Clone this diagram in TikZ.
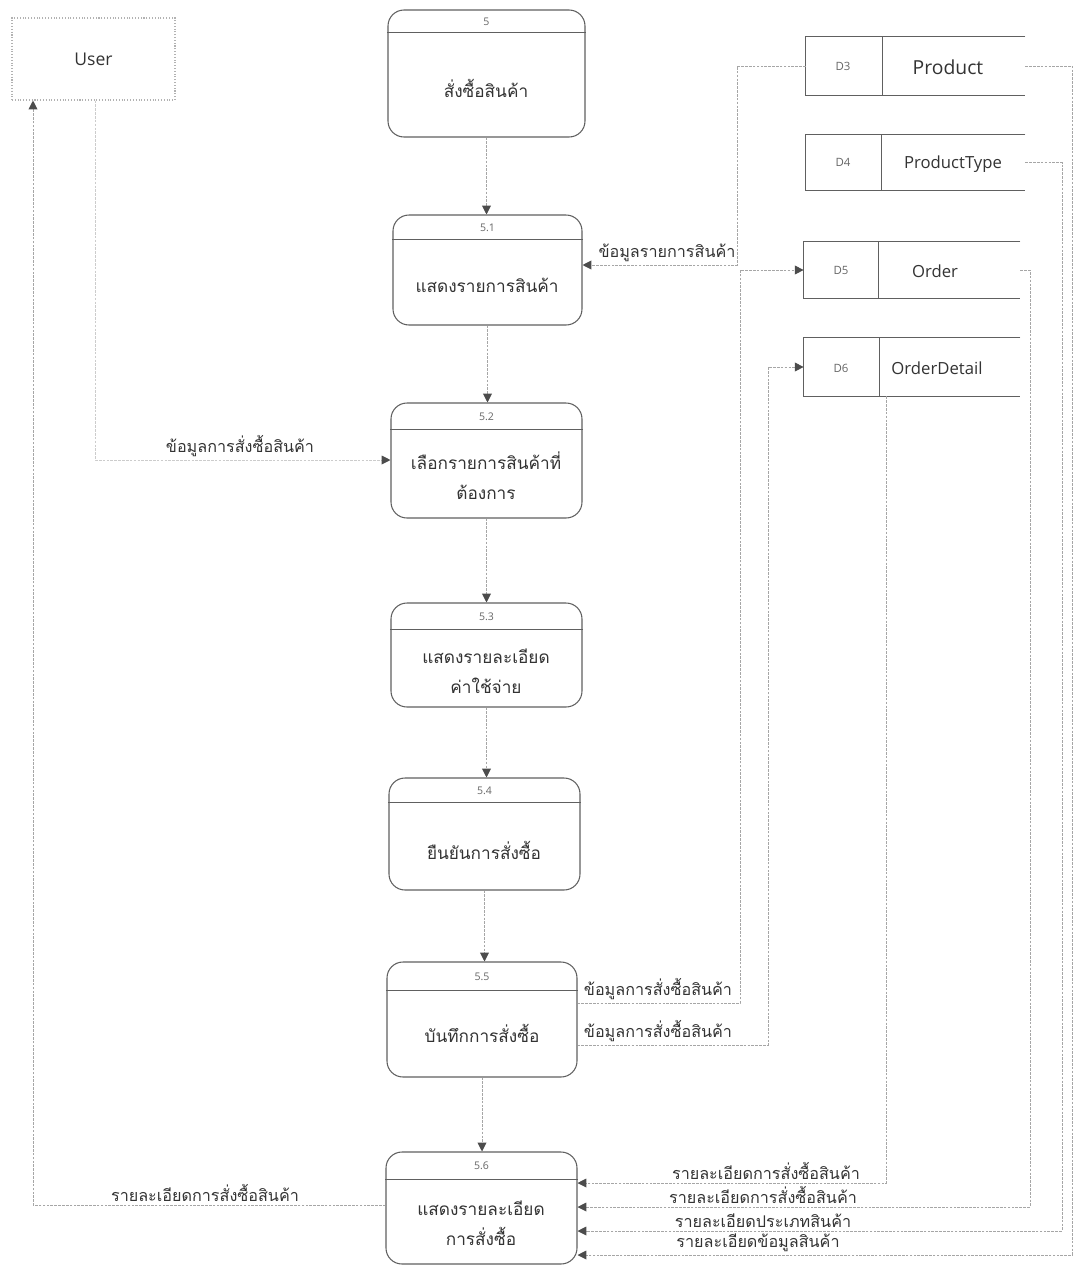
\documentclass[tikz,border=0pt]{standalone}
\usepackage{fontspec}
\setmainfont{Open Sans}
\newfontfamily\thai[Script=Thai]{Loma}
\usetikzlibrary{arrows.meta,calc}
\newcommand\pxu{0.02cm}

\begin{document}
\begin{tikzpicture}[x=0.02cm,y=-0.02cm,
  proc/.style={draw=gray!75!black, line width=0.6pt, rounded corners=0.32cm, inner sep=0pt, fill=white},
  pid/.style={font=\fontsize{6}{7}\selectfont, text=gray!80!black, inner sep=0pt},
  ptext/.style={font=\thai\fontsize{9.8}{17}\selectfont, align=center, text=black!80},
  store/.style={draw=none, inner sep=0pt},
  sline/.style={draw=gray!75!black, line width=0.5pt},
  sid/.style={font=\fontsize{6.5}{8}\selectfont, text=gray!80!black},
  sname/.style={font=\fontsize{9.5}{11}\selectfont, text=black!80},
  conn/.style={draw=gray!70, line width=0.5pt, dash pattern=on 1.5pt off 0.7pt,
    -{Triangle[length=5pt,width=5pt,color=gray!60!black]}},
  faint/.style={draw=gray!40},
  flabel/.style={font=\thai\fontsize{9.2}{10}\selectfont, text=black!80, inner sep=1.5pt}]

\useasboundingbox (0,0) rectangle (1074,1265);

% external entity
\node[draw=gray!60, densely dotted, line width=0.6pt, minimum width=163*\pxu, minimum height=82*\pxu,
      font=\fontsize{10}{12}\selectfont, text=black!80] (user) at (93.5,59) {User};

% processes: box, header rule, number, name
\node[proc, minimum width=197*\pxu, minimum height=127*\pxu] (p0) at (486.5,73.5) {};
\draw[sline] ($(p0.north west)+(0,23)$) -- ($(p0.north east)+(0,23)$);
\node[pid] (p0id) at ($(p0.north)+(0,12)$) {5};
\node[ptext] (p0t) at (486,88) {สั่งซื้อสินค้า};

\node[proc, minimum width=189*\pxu, minimum height=110*\pxu] (p1) at (487.5,270) {};
\draw[sline] ($(p1.north west)+(0,25)$) -- ($(p1.north east)+(0,25)$);
\node[pid] (p1id) at ($(p1.north)+(0,13)$) {5.1};
\node[ptext] (p1t) at (487,285) {แสดงรายการสินค้า};

\node[proc, minimum width=191*\pxu, minimum height=115*\pxu] (p2) at (486.5,460.5) {};
\draw[sline] ($(p2.north west)+(0,27)$) -- ($(p2.north east)+(0,27)$);
\node[pid] (p2id) at ($(p2.north)+(0,14)$) {5.2};
\node[ptext] (p2t) at (486,476) {เลือกรายการสินค้าที่\\ต้องการ};

\node[proc, minimum width=191*\pxu, minimum height=104*\pxu] (p3) at (486.5,655) {};
\draw[sline] ($(p3.north west)+(0,27)$) -- ($(p3.north east)+(0,27)$);
\node[pid] (p3id) at ($(p3.north)+(0,14)$) {5.3};
\node[ptext] (p3t) at (486,671) {แสดงรายละเอียด\\ค่าใช้จ่าย};

\node[proc, minimum width=191*\pxu, minimum height=112*\pxu] (p4) at (484.5,834) {};
\draw[sline] ($(p4.north west)+(0,25)$) -- ($(p4.north east)+(0,25)$);
\node[pid] (p4id) at ($(p4.north)+(0,13)$) {5.4};
\node[ptext] (p4t) at (484,850) {ยืนยันการสั่งซื้อ};

\node[proc, minimum width=190*\pxu, minimum height=115*\pxu] (p5) at (482,1019.5) {};
\draw[sline] ($(p5.north west)+(0,29)$) -- ($(p5.north east)+(0,29)$);
\node[pid] (p5id) at ($(p5.north)+(0,15)$) {5.5};
\node[ptext] (p5t) at (482,1033) {บันทึกการสั่งซื้อ};

\node[proc, minimum width=191*\pxu, minimum height=112*\pxu] (p6) at (481.5,1208) {};
\draw[sline] ($(p6.north west)+(0,28)$) -- ($(p6.north east)+(0,28)$);
\node[pid] (p6id) at ($(p6.north)+(0,14)$) {5.6};
\node[ptext] (p6t) at (481,1223) {แสดงรายละเอียด\\การสั่งซื้อ};

% data stores (open on the right)
\node[store, minimum width=219*\pxu, minimum height=58*\pxu] (d3) at (915.5,66) {};
\draw[sline] (d3.north east) -- (d3.north west) -- (d3.south west) -- (d3.south east);
\draw[sline] ($(d3.north west)+(77,0)$) -- ($(d3.south west)+(77,0)$);
\node[sid] (d3id) at (843,66) {D3};
\node[sname, font=\fontsize{11}{13}\selectfont] (d3n) at (948,67) {Product};

\node[store, minimum width=219*\pxu, minimum height=55*\pxu] (d4) at (915.5,162.5) {};
\draw[sline] (d4.north east) -- (d4.north west) -- (d4.south west) -- (d4.south east);
\draw[sline] ($(d4.north west)+(76,0)$) -- ($(d4.south west)+(76,0)$);
\node[sid] (d4id) at (843,162) {D4};
\node[sname] (d4n) at (953,164) {ProductType};

\node[store, minimum width=216*\pxu, minimum height=56*\pxu] (d5) at (912,270) {};
\draw[sline] (d5.north east) -- (d5.north west) -- (d5.south west) -- (d5.south east);
\draw[sline] ($(d5.north west)+(75,0)$) -- ($(d5.south west)+(75,0)$);
\node[sid] (d5id) at (841,270) {D5};
\node[sname] (d5n) at (935,271) {Order};

\node[store, minimum width=216*\pxu, minimum height=58*\pxu] (d6) at (912,367) {};
\draw[sline] (d6.north east) -- (d6.north west) -- (d6.south west) -- (d6.south east);
\draw[sline] ($(d6.north west)+(76,0)$) -- ($(d6.south west)+(76,0)$);
\node[sid] (d6id) at (841,368) {D6};
\node[sname] (d6n) at (937,368) {OrderDetail};

% bends of the flows
\coordinate (k1) at (737,265);
\coordinate (k2) at (740,1003);
\coordinate (k3) at (768,1045);
\coordinate (k4) at (886,1183);
\coordinate (k5) at (1030,1207);
\coordinate (k6) at (1062,1231);
\coordinate (k7) at (1072,1255);
\coordinate (k8) at (33,1205);
\coordinate (k9) at (95,460);

% main sequence
\draw[conn] (p0.south) -- (p0.south |- p1.north);
\draw[conn] (p1.south) -- (p1.south |- p2.north);
\draw[conn] (p2.south) -- (p2.south |- p3.north);
\draw[conn] (p3.south) -- (p3.south |- p4.north);
\draw[conn] (p4.south) -- (p4.south |- p5.north);
\draw[conn] (p5.south) -- (p5.south |- p6.north);

% flows with stores
\draw[conn] (d3.west) -| (k1) -- (p1.east |- k1);
\node[flabel, anchor=south] (l1) at (667,265) {ข้อมูลรายการสินค้า};

\draw[conn] (p5.east |- k2) -| (k2 |- d5.west) -- (d5.west);
\node[flabel, anchor=south] (l2) at (658,1003) {ข้อมูลการสั่งซื้อสินค้า};

\draw[conn] (p5.east |- k3) -| (k3 |- d6.west) -- (d6.west);
\node[flabel, anchor=south] (l3) at (658,1045) {ข้อมูลการสั่งซื้อสินค้า};

\draw[conn] (d6.south -| k4) -- (k4) -- (p6.east |- k4);
\node[flabel, anchor=south] (l4) at (766,1183) {รายละเอียดการสั่งซื้อสินค้า};

\draw[conn] (d5.east) -- (d5.east -| k5) -- (k5) -- (p6.east |- k5);
\node[flabel, anchor=south] (l5) at (763,1207) {รายละเอียดการสั่งซื้อสินค้า};

\draw[conn] (d4.east) -- (d4.east -| k6) -- (k6) -- (p6.east |- k6);
\node[flabel, anchor=south] (l6) at (763,1231) {รายละเอียดประเภทสินค้า};

\draw[conn] (d3.east) -- (d3.east -| k7) -- (k7) -- (p6.east |- k7);
\node[flabel, anchor=south] (l7) at (758,1255) {รายละเอียดข้อมูลสินค้า};

% flows with the user
\draw[conn] (p6.west |- k8) -| (user.south -| k8);
\node[flabel, anchor=south] (l8) at (205,1205) {รายละเอียดการสั่งซื้อสินค้า};

\draw[conn, faint] (user.south -| k9) |- (p2.west |- k9);
\node[flabel, anchor=south] (l9) at (240,460) {ข้อมูลการสั่งซื้อสินค้า};

\end{tikzpicture}
\end{document}
